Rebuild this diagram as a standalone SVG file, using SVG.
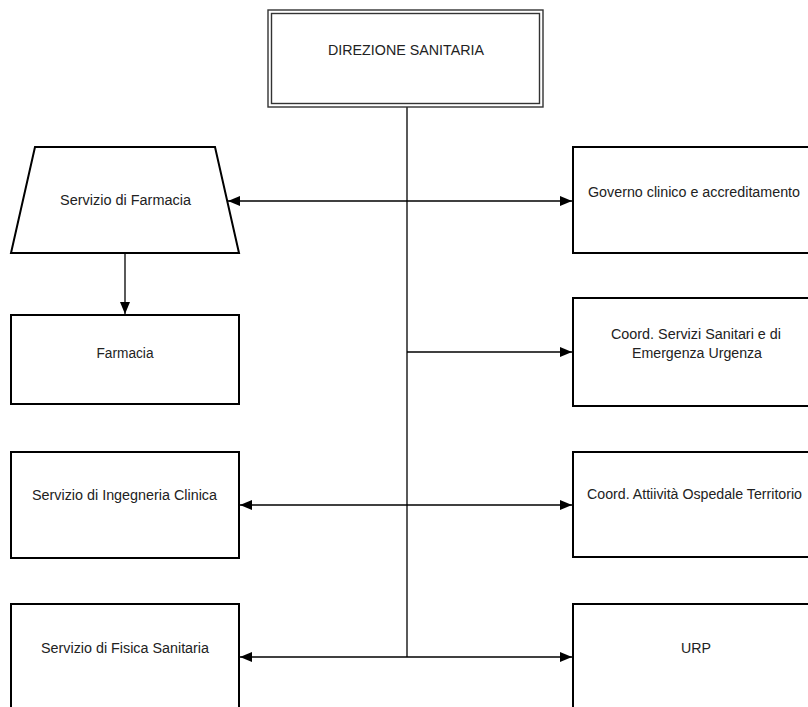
<svg xmlns="http://www.w3.org/2000/svg" width="808" height="707" viewBox="0 0 808 707">
<style>
.box{fill:#fff;stroke:#000;stroke-width:2}
.dbl{fill:none;stroke:#333;stroke-width:1.4}
.lbl{font-family:"Liberation Sans",Arial,sans-serif;font-size:14px;fill:#222;text-anchor:middle}
.con{fill:none;stroke:#000;stroke-width:1.3}
</style>
<defs>
<marker id="arr" viewBox="0 0 12 10" refX="12" refY="5" markerWidth="12" markerHeight="10" markerUnits="userSpaceOnUse" orient="auto-start-reverse">
<path d="M0,0 L12,5 L0,10 z" fill="#000"/>
</marker>
</defs>
<rect width="808" height="707" fill="#fff"/>
<g id="connectors">
<line class="con" x1="407" y1="107" x2="407" y2="657"/>
<line class="con" x1="228" y1="201" x2="572" y2="201" marker-start="url(#arr)" marker-end="url(#arr)"/>
<line class="con" x1="407" y1="352" x2="572" y2="352" marker-end="url(#arr)"/>
<line class="con" x1="240" y1="505" x2="572" y2="505" marker-start="url(#arr)" marker-end="url(#arr)"/>
<line class="con" x1="240" y1="657" x2="572" y2="657" marker-start="url(#arr)" marker-end="url(#arr)"/>
<line class="con" x1="125" y1="253" x2="125" y2="314" marker-end="url(#arr)"/>
</g>
<g id="direzione">
<rect x="268" y="10" width="275" height="97" fill="#fff"/>
<rect class="dbl" x="268" y="10" width="275" height="97"/>
<rect class="dbl" x="271.5" y="13.5" width="268" height="90"/>
<text class="lbl" x="406" y="55" textLength="156" lengthAdjust="spacingAndGlyphs">DIREZIONE SANITARIA</text>
</g>
<g id="servizio-farmacia">
<polygon class="box" points="35,147 215,147 239,253 11,253"/>
<text class="lbl" x="125.5" y="205" textLength="131" lengthAdjust="spacingAndGlyphs">Servizio di Farmacia</text>
</g>
<g id="farmacia">
<rect class="box" x="11" y="315" width="228" height="89"/>
<text class="lbl" x="125" y="358" textLength="57" lengthAdjust="spacingAndGlyphs">Farmacia</text>
</g>
<g id="ingegneria">
<rect class="box" x="11" y="452" width="228" height="106"/>
<text class="lbl" x="124.5" y="500" textLength="185" lengthAdjust="spacingAndGlyphs">Servizio di Ingegneria Clinica</text>
</g>
<g id="fisica">
<rect class="box" x="11" y="604" width="228" height="120"/>
<text class="lbl" x="125" y="653" textLength="168" lengthAdjust="spacingAndGlyphs">Servizio di Fisica Sanitaria</text>
</g>
<g id="governo">
<rect class="box" x="573" y="147" width="250" height="106"/>
<text class="lbl" x="694" y="197" textLength="212" lengthAdjust="spacingAndGlyphs">Governo clinico e accreditamento</text>
</g>
<g id="coord-servizi">
<rect class="box" x="573" y="298" width="250" height="108"/>
<text class="lbl" x="696" y="339" textLength="170" lengthAdjust="spacingAndGlyphs">Coord. Servizi Sanitari e di</text>
<text class="lbl" x="697" y="358" textLength="130" lengthAdjust="spacingAndGlyphs">Emergenza Urgenza</text>
</g>
<g id="coord-attivita">
<rect class="box" x="573" y="452" width="250" height="105"/>
<text class="lbl" x="694.5" y="499" textLength="215" lengthAdjust="spacingAndGlyphs">Coord. Attiività Ospedale Territorio</text>
</g>
<g id="urp">
<rect class="box" x="573" y="604" width="250" height="120"/>
<text class="lbl" x="696" y="653" textLength="30" lengthAdjust="spacingAndGlyphs">URP</text>
</g>
</svg>
